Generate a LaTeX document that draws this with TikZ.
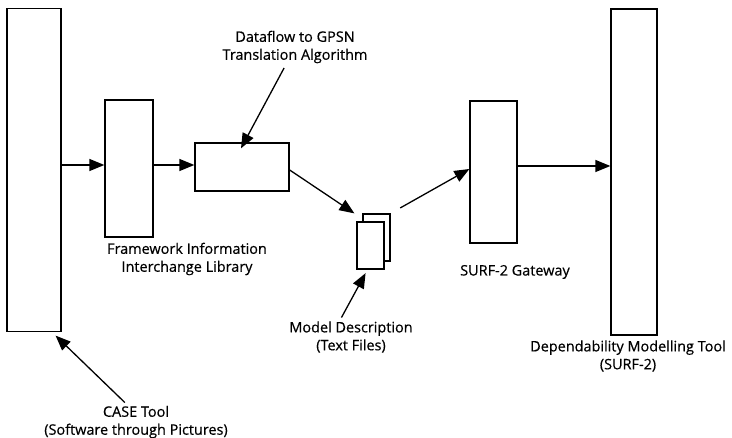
\documentclass[tikz,border=0pt]{standalone}
\usepackage{fontspec}
\setmainfont{Open Sans}
\newfontfamily\lblfont[FakeBold=0.5]{Open Sans}
\usetikzlibrary{arrows.meta}
\begin{document}
\begin{tikzpicture}[x=1bp,y=-1bp,
  box/.style={draw,line width=1.3bp,fill=white,inner sep=0pt},
  lbl/.style={align=center,inner sep=1bp,font=\lblfont\fontsize{14.5}{18}\selectfont},
  arr/.style={line width=1.3bp,-{Triangle[length=15bp,width=12bp]}}]
\useasboundingbox (0,0) rectangle (732,438);
% boxes
\node[box,minimum width=54bp,minimum height=323bp] (case) at (34,170) {};
\node[box,minimum width=48bp,minimum height=137bp] (fiil) at (129,168.5) {};
\node[box,minimum width=94bp,minimum height=48bp] (algo) at (242,167) {};
\node[box,minimum width=27bp,minimum height=47bp] (back) at (376.5,237.5) {};
\node[box,minimum width=27bp,minimum height=47bp] (front) at (370.5,245.5) {};
\node[box,minimum width=47bp,minimum height=142bp] (gw) at (493.5,172) {};
\node[box,minimum width=46bp,minimum height=326bp] (dmt) at (634,172) {};
% labels
\node[lbl] (dflabel) at (295,47) {Dataflow to GPSN\\Translation Algorithm};
\node[lbl] (fiillabel) at (187,259) {Framework Information\\Interchange Library};
\node[lbl] (mdlabel) at (351,337) {Model Description\\(Text Files)};
\node[lbl] (gwlabel) at (515,272) {SURF-2 Gateway};
\node[lbl] (dmtlabel) at (628,356) {Dependability Modelling Tool\\(SURF-2)};
\node[lbl] (caselabel) at (136,422) {CASE Tool\\(Software through Pictures)};
% connector end points
\coordinate (fiilin) at ([yshift=3.5bp]fiil.west);
\coordinate (algoin) at ([yshift=2bp]algo.west);
\coordinate (gwout) at ([yshift=6bp]gw.east);
% connectors
\draw[arr] (case.east |- fiilin) -- (fiilin);
\draw[arr] (fiil.east |- algoin) -- (algoin);
\draw[arr] ([yshift=-3bp]algo.east) -- ([xshift=-8bp]back.north west);
\draw[arr,shorten <=11bp] (back.north east) -- ([yshift=3bp]gw.west);
\draw[arr] (gwout) -- (dmt.west |- gwout);
\draw[arr,shorten <=4bp] ([xshift=-9bp]dflabel.south) -- ([xshift=-1bp,yshift=-6bp]algo.north);
\draw[arr,shorten <=3bp,shorten >=4bp] ([xshift=-11bp]mdlabel.north) -- ([xshift=-3bp]front.south);
\draw[arr,shorten <=3bp,shorten >=5bp] ([xshift=-9bp]caselabel.north) -- ([xshift=18bp]case.south);
\end{tikzpicture}
\end{document}
